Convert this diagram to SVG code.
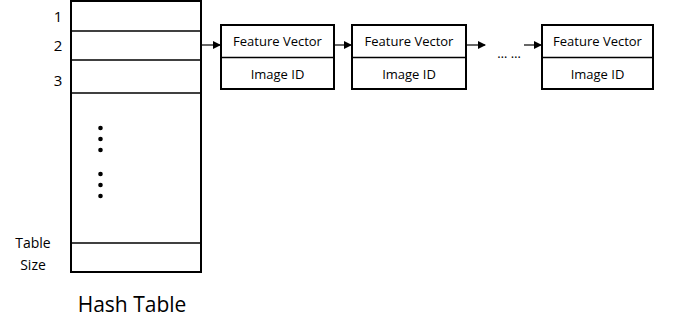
<svg xmlns="http://www.w3.org/2000/svg" width="677" height="323" viewBox="0 0 677 323">
<style>
.box{fill:#fff;stroke:#000;stroke-width:2}
.ln{stroke:#000;stroke-width:1.5;fill:none}
.t{font-family:"Open Sans","Liberation Sans",sans-serif;fill:#000}
.b{font-size:13px;text-anchor:middle}
.c{stroke:#000;stroke-width:1.2;fill:none}
</style>
<defs>
<marker id="ah" markerWidth="8" markerHeight="8" refX="7" refY="4" orient="auto" markerUnits="userSpaceOnUse">
<path d="M0,0 L8,4 L0,8 Z" fill="#000"/>
</marker>
</defs>
<g id="hash-table">
<rect class="box" x="71" y="1" width="130" height="271"/>
<line class="ln" x1="71" y1="31" x2="201" y2="31"/>
<line class="ln" x1="71" y1="60" x2="201" y2="60"/>
<line class="ln" x1="71" y1="93" x2="201" y2="93"/>
<line class="ln" x1="71" y1="243" x2="201" y2="243"/>
<g fill="#000">
<circle cx="100.5" cy="128" r="2.3"/><circle cx="100.5" cy="139" r="2.3"/><circle cx="100.5" cy="150" r="2.3"/>
<circle cx="100.5" cy="174" r="2.3"/><circle cx="100.5" cy="185" r="2.3"/><circle cx="100.5" cy="196" r="2.3"/>
</g>
<text class="t" x="58" y="22" font-size="15" text-anchor="middle">1</text>
<text class="t" x="58" y="51" font-size="15" text-anchor="middle">2</text>
<text class="t" x="58" y="86" font-size="15" text-anchor="middle">3</text>
<text class="t" x="33" y="248" font-size="14" text-anchor="middle">Table</text>
<text class="t" x="33" y="270" font-size="14" text-anchor="middle">Size</text>
<text class="t" x="132" y="312" font-size="21" text-anchor="middle">Hash Table</text>
</g>
<g id="node1">
<rect class="box" x="221" y="25" width="113" height="64"/>
<line class="ln" x1="221" y1="57.5" x2="334" y2="57.5"/>
<text class="t b" x="277.5" y="45.5">Feature Vector</text>
<text class="t b" x="277.5" y="78.5">Image ID</text>
</g>
<g id="node2">
<rect class="box" x="352" y="25" width="114" height="64"/>
<line class="ln" x1="352" y1="57.5" x2="466" y2="57.5"/>
<text class="t b" x="409" y="45.5">Feature Vector</text>
<text class="t b" x="409" y="78.5">Image ID</text>
</g>
<g id="node3">
<rect class="box" x="542" y="25" width="111" height="64"/>
<line class="ln" x1="542" y1="57.5" x2="653" y2="57.5"/>
<text class="t b" x="597.5" y="45.5">Feature Vector</text>
<text class="t b" x="597.5" y="78.5">Image ID</text>
</g>
<g id="connectors">
<line class="c" x1="201" y1="45" x2="220" y2="45" marker-end="url(#ah)"/>
<line class="c" x1="334" y1="45" x2="351" y2="45" marker-end="url(#ah)"/>
<line class="c" x1="466" y1="45" x2="485" y2="45" marker-end="url(#ah)"/>
<line class="c" x1="524" y1="45" x2="541" y2="45" marker-end="url(#ah)"/>
<text class="t" x="509" y="58" font-size="13" text-anchor="middle">… …</text>
</g>
</svg>
